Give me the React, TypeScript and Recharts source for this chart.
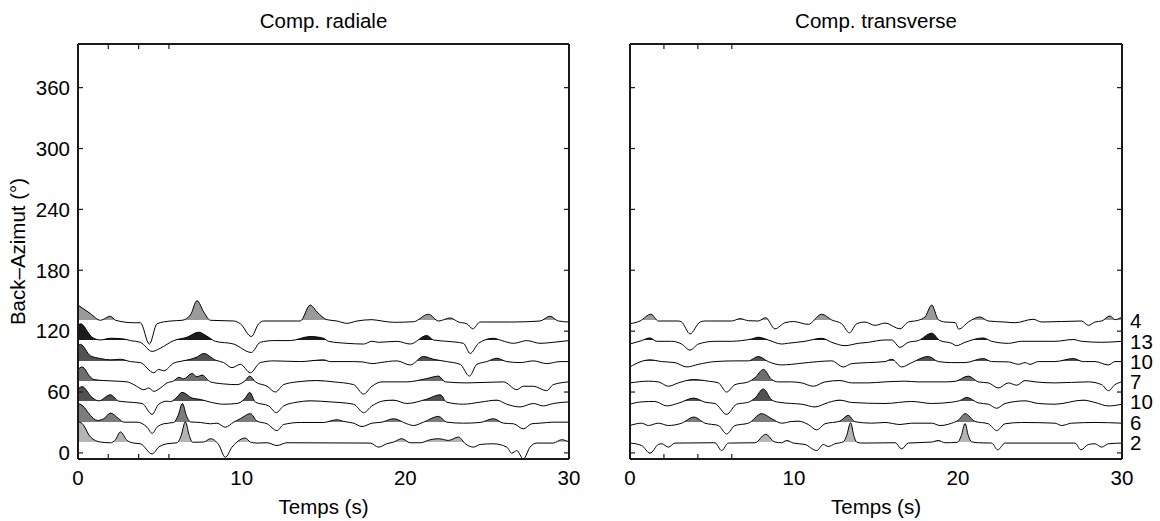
import React from 'react';
import { ComposedChart, Area, XAxis, YAxis, Label } from 'recharts';

type Pt = [number, number];

const FONT = '"Liberation Sans", Arial, Helvetica, sans-serif';
const TIME_TICKS = [0, 10, 20, 30];
const BAZ_TICKS = [0, 60, 120, 180, 240, 300, 360];
const TIME_DOMAIN: [number, number] = [0, 30];
const BAZ_DOMAIN: [number, number] = [-6, 403];
const BASELINES = [130, 110, 90, 70, 50, 30, 10];
const COUNTS = [4, 13, 10, 7, 10, 6, 2];
const FILLS = ['#9a9a9a', '#1c1c1c', '#525252', '#6e6e6e', '#525252', '#7c7c7c', '#b4b4b4'];

// Radial component: [time (s), amplitude above the trace baseline]
const RADIAL_130: Pt[] = [[0,15.7],[0.76,7.3],[1.37,0.7],[1.98,4.7],[2.29,0.7],[3.41,-1.7],[3.81,-1.7],[4.36,-22.7],[4.83,-2.7],[5.65,0],[6.36,0.7],[6.87,6],[7.27,20],[7.68,9],[8.09,0.7],[9.51,0],[9.92,-2.7],[10.59,-15.3],[11.04,-2.7],[11.34,0],[13.58,0],[14.19,15.7],[14.6,9],[15.21,1.3],[15.82,0],[16.43,-2.3],[17.04,0],[17.96,1.3],[18.57,0],[19.28,-1.3],[20.5,-0.7],[21.41,6.7],[22.03,0],[22.74,3],[23.25,-1],[23.76,-2.7],[24.12,-7.7],[24.57,-1],[26.5,-1],[28.23,0],[28.84,4.7],[29.35,0],[30,-1]];
const RADIAL_110: Pt[] = [[0,15.7],[0.15,17.3],[0.86,4],[1.37,1.3],[1.98,3],[2.8,2.3],[3.2,0.7],[3.81,-1],[4.53,-10],[5.04,-6.7],[5.85,0.7],[6.66,4],[7.38,9],[7.88,5],[8.39,0],[9.51,-2.7],[10.59,-11],[11.14,-1],[11.95,0.7],[12.97,0.7],[14.19,4.7],[15.0,3],[15.31,0],[16.43,-2],[17.45,-2.7],[17.96,0],[18.36,-1],[19.48,0],[20.3,-2.7],[21.31,5.7],[21.72,1.3],[22.53,0],[23.55,-2],[23.96,-12],[24.47,-2],[25.38,3],[25.89,0.7],[26.61,-2],[27.42,0.7],[28.23,-2],[29.04,-1],[30,0.7]];
const RADIAL_90: Pt[] = [[0,15.7],[0.15,17],[0.76,5.7],[1.37,3],[1.98,1.7],[2.59,2.3],[3.2,0],[3.81,-1],[4.63,-11],[4.93,-7.7],[5.24,-9],[5.85,-1.5],[6.36,0.5],[6.87,2.3],[7.27,4.5],[7.68,8],[8.39,1.5],[8.9,-1],[9.41,-6],[9.92,-2.7],[10.53,-11],[11.14,-1],[11.95,0.7],[13.58,0],[15.0,1.7],[15.41,0],[16.84,0],[17.35,-0.3],[18.02,-2],[18.46,-1],[19.48,0.7],[20.3,-3.3],[21.11,5],[21.72,2.3],[22.53,0],[23.35,-2.7],[23.92,-14.3],[24.37,-2.7],[24.98,0],[25.59,3.3],[26.2,0],[27.01,-1],[27.82,0.7],[28.64,-2],[29.45,0],[30,0]];
const RADIAL_70: Pt[] = [[0,12.3],[0.25,14.7],[0.76,4.7],[0.97,2.3],[1.58,1.3],[2.39,0.7],[3.0,0],[3.41,-2.7],[4.02,-7.7],[4.32,-6],[4.63,-9.3],[5.04,-6],[5.44,-1],[5.85,1],[6.15,4.5],[6.46,3],[6.97,8.3],[7.27,5],[7.58,6.7],[8.09,0],[8.9,-2],[9.71,-2.7],[10.2,1],[10.49,5.7],[10.84,0],[11.55,-4.3],[12.06,-10],[12.56,-2.7],[13.38,0],[14.6,1.3],[15.62,0],[16.84,-2.7],[17.45,-12],[17.96,-4.3],[18.57,0],[20.09,0],[21.31,3.3],[22.03,5.7],[22.43,0],[23.76,-1],[26.0,0],[26.81,-7.7],[27.21,-4.3],[27.82,-4.3],[28.64,-8.7],[29.04,-2.7],[30,0]];
const RADIAL_50: Pt[] = [[0,13],[0.25,15.3],[0.86,4.7],[1.27,1.3],[1.98,7.3],[2.49,1],[3.41,-0.3],[3.92,-1.3],[4.53,-12],[4.93,-2],[5.44,1],[5.65,0.5],[6.05,5],[6.36,9.7],[6.97,4],[7.48,2.7],[8.09,0],[8.9,-2],[9.71,-1.3],[10.22,4],[10.49,9.7],[10.84,0],[11.65,-3.7],[12.12,-10.3],[12.56,-3.7],[13.38,0],[14.19,1.3],[15.41,0.3],[16.84,-2],[17.45,-10.3],[17.96,-3.7],[18.67,1.3],[19.28,2],[20.09,-1.3],[21.31,3],[22.13,7.3],[22.53,0],[23.55,-2],[24.57,0],[25.59,2],[26.2,-2],[27.01,-4.7],[27.82,-1.3],[28.43,-3.7],[29.04,-1.3],[30,0.3]];
const RADIAL_30: Pt[] = [[0,18.7],[0.25,17],[0.76,7],[1.17,2],[1.58,3.7],[1.98,9.3],[2.49,3.7],[2.8,0.3],[3.61,0.3],[4.22,-4.7],[4.53,-10.7],[4.83,-4.7],[5.24,-1.3],[5.85,0],[6.12,7],[6.38,18.7],[6.62,7],[6.87,0.5],[7.48,0],[8.09,-1.3],[8.49,-0.7],[9.0,-4.7],[9.51,0.3],[9.92,3.7],[10.53,8.7],[10.94,1.3],[11.55,-1.3],[12.16,-8],[12.56,-2],[13.58,0],[15.0,0],[15.82,2.7],[16.23,1],[16.84,-0.7],[17.35,-4],[17.96,-0.7],[18.57,0.3],[19.28,3.7],[20.09,-1.3],[20.5,-3],[21.11,0.3],[22.03,6],[22.53,0.3],[23.55,-0.7],[24.57,0],[25.38,3.7],[26.0,-0.7],[26.61,-1.3],[27.21,-6.3],[27.72,-1.3],[28.23,-0.7],[29.04,0.3],[30,0.3]];
const RADIAL_10: Pt[] = [[0,20.7],[0.25,19],[0.76,5.7],[1.37,0.7],[1.98,0],[2.29,3],[2.59,10.7],[3.0,2.3],[3.41,-0.3],[3.81,-1],[4.53,-11],[4.93,-4.3],[5.44,-1],[6.05,0],[6.3,7],[6.56,20.7],[6.8,7],[7.0,0.5],[7.68,0.7],[8.09,4],[8.6,-2],[9.0,-14.3],[9.41,-4.3],[9.71,0.7],[10.22,4.7],[10.53,0.7],[10.94,-0.3],[11.55,0],[12.16,-2.7],[12.77,0],[17.86,-0.3],[18.36,-4.3],[18.87,-1],[19.28,0.7],[19.79,4],[20.3,0],[20.91,0],[21.52,3],[22.03,4],[22.64,2.3],[23.25,5.7],[23.66,-1],[24.16,-4.3],[24.57,-1.7],[25.38,-1],[26.2,-4.3],[26.5,-10.3],[26.81,-7.7],[27.21,-16],[27.62,-4.3],[28.03,-0.3],[29.04,-0.3],[29.55,3],[30,0.7]];

// Transverse component
const TRANS_130: Pt[] = [[0,-2.7],[0.61,0],[1.28,6.7],[1.73,0],[2.95,0],[3.15,-1],[3.66,-12.7],[4.27,-1],[4.57,0],[6.2,0],[6.71,2.3],[7.22,0.3],[7.82,0],[8.27,3.3],[8.84,-7.7],[9.45,-1.7],[9.96,-0.5],[10.87,-3.3],[11.69,6.7],[12.3,1],[12.91,-2.7],[13.38,-11.7],[13.82,-2.7],[14.33,-1],[14.94,-4.3],[15.55,-2],[16.46,-7.7],[16.97,-1],[17.58,0.7],[17.99,4],[18.4,15.7],[18.8,1.3],[19.21,-1],[19.82,-1.5],[20.05,-8],[20.63,-1],[21.34,4],[21.85,0],[22.87,-1],[23.48,-1.7],[24.59,1.7],[25.1,-1],[27.54,0],[27.95,-4.3],[28.35,-1],[28.76,0],[29.27,5],[29.57,1.3],[30,4]];
const TRANS_110: Pt[] = [[0,-2.7],[0.71,0.7],[1.22,3.3],[1.63,0],[2.54,0],[3.15,-2.7],[3.66,-8.7],[4.17,-2.7],[5.18,0],[6.2,0],[6.81,0.7],[7.42,2.3],[7.82,4],[8.43,1.3],[9.25,-2.7],[9.6,-2],[10.67,0],[11.69,3],[12.3,-1],[13.11,-4.3],[13.92,-2],[14.53,-1],[15.55,1.3],[15.96,1.3],[16.46,-6],[16.97,-1],[17.58,0.7],[18.4,8],[18.9,0.7],[19.62,-2],[19.9,-4.3],[20.43,-1],[21.54,3.3],[22.05,0],[23.07,-2],[23.88,0],[25.91,0],[27.03,1.7],[27.54,0],[28.76,-1],[30,0]];
const TRANS_90: Pt[] = [[0,-5.3],[0.61,-0.3],[1.22,1.7],[1.93,0],[2.74,-1],[3.46,-5.3],[4.17,-2.7],[5.18,0],[6.4,0.7],[7.22,0.7],[7.82,5],[8.43,0],[9.25,-3.3],[9.86,-2.7],[10.26,-2],[11.48,0],[12.3,0.7],[13.01,-5.3],[13.52,-2],[14.53,-1],[15.55,0],[15.96,2.3],[16.57,-5.3],[17.18,-1],[18.19,5],[18.8,0],[19.62,-1],[20.43,-1],[21.54,3],[22.05,0],[23.07,-0.3],[23.68,-2.7],[24.09,-1],[24.39,-2.7],[24.9,0],[25.91,0],[27.03,3],[27.64,0],[28.35,0],[29.17,-3.3],[29.57,0],[30,0]];
const TRANS_70: Pt[] = [[0,-1],[1.12,0.7],[1.73,0],[2.34,-4.3],[2.95,-1],[3.86,2.3],[4.78,0.7],[5.39,-1],[5.89,-10],[6.4,-2.7],[7.22,0],[7.62,4],[8.13,12.3],[8.64,2.3],[9.04,0],[9.86,0],[10.47,-1],[11.18,-4.3],[11.89,0],[12.8,1.3],[13.52,-1],[14.53,-1],[15.55,0],[16.77,0.7],[17.58,0],[19.21,0],[19.82,0.5],[20.63,5.7],[21.24,0],[21.85,-1],[22.46,-6],[23.07,-1],[23.58,-3.3],[24.09,1.3],[24.7,0],[25.91,-1],[27.95,0],[28.76,-2.7],[29.17,-8.7],[29.57,-2.7],[30,0]];
const TRANS_50: Pt[] = [[0,-2],[0.71,0.3],[1.52,0.7],[2.24,-3.7],[2.95,-1],[3.9,4],[4.57,0],[5.18,-1.3],[5.89,-12],[6.5,-2],[7.22,0],[7.62,4],[8.13,13],[8.64,2.3],[9.04,0],[9.86,-1.3],[10.47,-2],[11.28,-4.7],[12.09,-0.3],[12.8,2],[13.52,-0.3],[15.55,-1.3],[17.18,0.7],[18.4,-1.3],[19.62,0],[20.1,1.5],[20.53,4.7],[21.24,-0.7],[21.85,-2],[22.36,-6],[22.87,-1.3],[24.09,1.3],[24.9,-1.3],[25.91,-2],[27.64,2],[28.35,-0.3],[29.17,-3.7],[30,-2]];
const TRANS_30: Pt[] = [[0,-3],[0.71,-0.7],[1.12,-3],[1.73,-0.7],[2.34,-3],[3.15,-0.7],[3.9,5.3],[4.57,-0.7],[5.39,-3],[5.89,-11.3],[6.4,-3],[7.22,-0.7],[8.03,8.7],[8.64,3.7],[9.25,-0.7],[9.86,1],[10.26,1.3],[10.87,-2],[11.38,-7.3],[11.89,-1.3],[12.8,1.3],[13.31,7],[13.72,0.7],[14.74,-0.7],[15.55,0],[16.46,-2],[17.18,-0.7],[18.4,-0.7],[18.9,-3],[19.62,-0.7],[20.0,2],[20.43,8.7],[21.04,1],[21.85,-1.3],[22.36,-8],[22.87,-1.3],[23.88,0],[25.91,-0.7],[26.32,-3],[26.93,-0.7],[28.35,0],[30,-0.7]];
const TRANS_10: Pt[] = [[0,-0.3],[0.71,-2.7],[1.22,-10.3],[1.73,-1.7],[1.93,-1],[2.34,-4.3],[2.74,-0.3],[5.18,0],[5.59,-7.7],[6.0,-0.3],[7.62,0],[8.27,8.3],[8.84,0.7],[9.25,0],[9.55,2.3],[9.96,-0.3],[10.67,-1.7],[11.38,-7.7],[11.79,-1.7],[12.09,-3.7],[12.5,-1],[13.01,1],[13.21,7],[13.45,19.7],[13.65,7],[13.82,0.7],[14.13,-0.3],[16.16,0],[16.57,-6],[16.97,-0.3],[18.4,0.7],[18.8,2.3],[19.21,0],[19.97,0.5],[20.2,7],[20.43,19],[20.63,7],[20.83,1],[21.24,0],[22.05,-0.3],[22.42,-7],[22.87,-0.3],[27.13,-0.3],[27.5,-7],[27.95,-1.7],[28.35,-1],[28.76,-4.3],[29.17,-1],[30,-0.3]];

const RADIAL_TRACES = [RADIAL_130, RADIAL_110, RADIAL_90, RADIAL_70, RADIAL_50, RADIAL_30, RADIAL_10];
const TRANS_TRACES = [TRANS_130, TRANS_110, TRANS_90, TRANS_70, TRANS_50, TRANS_30, TRANS_10];

function buildRows(traces: Pt[][]) {
  const map = new Map<number, Record<string, number>>();
  traces.forEach((tr, i) => {
    tr.forEach(([t, a]) => {
      const row = map.get(t) || { t };
      row['s' + i] = BASELINES[i] + a;
      map.set(t, row);
    });
  });
  return Array.from(map.values()).sort((a, b) => a.t - b.t);
}

// share of the area's height lying above the baseline (gradient hard stop)
function positiveShare(trace: Pt[], base: number) {
  const vals = trace.map((p) => base + p[1]);
  const max = Math.max(base, ...vals);
  const min = Math.min(base, ...vals);
  if (max <= min) return 0;
  return Math.max(0, (max - base - 0.9) / (max - min));
}

const INK = '#1a1a1a';
const FS = 20.5;
const tickText = { fontSize: FS, fill: '#000', fontFamily: FONT };

const markBottom = (p: any) => (
  <line x1={p.x} y1={p.y} x2={p.x} y2={p.y - 5} stroke={INK} strokeWidth={1.2} />
);
const markTop = (p: any) => (
  <line x1={p.x} y1={p.y} x2={p.x} y2={p.y + 5} stroke={INK} strokeWidth={1.2} />
);
const markLeft = (p: any) => (
  <line x1={p.x} y1={p.y} x2={p.x + 5} y2={p.y} stroke={INK} strokeWidth={1.2} />
);
const markRight = (p: any) => (
  <line x1={p.x} y1={p.y} x2={p.x - 5} y2={p.y} stroke={INK} strokeWidth={1.2} />
);

type PanelProps = {
  traces: Pt[][];
  prefix: string;
  title: string;
  left: boolean;
  width: number;
  margin: { top: number; right: number; bottom: number; left: number };
};

function Panel({ traces, prefix, title, left, width, margin }: PanelProps) {
  const rows = buildRows(traces);
  const frame = { stroke: INK, strokeWidth: 2 };
  return (
    <ComposedChart width={width} height={521} data={rows} margin={margin}>
      <defs>
        {traces.map((tr, i) => {
          const off = positiveShare(tr, BASELINES[i]);
          return (
            <linearGradient key={i} id={`${prefix}g${i}`} x1="0" y1="0" x2="0" y2="1">
              <stop offset={0} stopColor={FILLS[i]} stopOpacity={1} />
              <stop offset={off} stopColor={FILLS[i]} stopOpacity={1} />
              <stop offset={off} stopColor={FILLS[i]} stopOpacity={0} />
              <stop offset={1} stopColor={FILLS[i]} stopOpacity={0} />
            </linearGradient>
          );
        })}
      </defs>
      <XAxis
        xAxisId="x"
        dataKey="t"
        type="number"
        domain={TIME_DOMAIN}
        allowDataOverflow
        ticks={TIME_TICKS}
        interval={0}
        height={62}
        tickLine={false}
        axisLine={false}
        tickSize={0}
        tickMargin={11}
        tick={tickText}
      >
        <Label value="Temps (s)" position="insideBottom" offset={7} fontSize={FS} fill="#000" fontFamily={FONT} />
      </XAxis>
      <XAxis
        xAxisId="xb"
        type="number"
        orientation="bottom"
        mirror
        domain={TIME_DOMAIN}
        allowDataOverflow
        ticks={TIME_TICKS}
        interval={0}
        tick={markBottom}
        tickLine={false}
        tickSize={0}
        tickMargin={0}
        axisLine={frame}
      />
      <XAxis
        xAxisId="xt"
        type="number"
        orientation="top"
        mirror
        domain={TIME_DOMAIN}
        allowDataOverflow
        ticks={TIME_TICKS}
        interval={0}
        tick={markTop}
        tickLine={false}
        tickSize={0}
        tickMargin={0}
        axisLine={frame}
      >
        <Label value={title} position="top" offset={16} fontSize={FS} fill="#000" fontFamily={FONT} />
      </XAxis>
      {left ? (
        <YAxis
          yAxisId="y"
          type="number"
          domain={BAZ_DOMAIN}
          allowDataOverflow
          ticks={BAZ_TICKS}
          interval={0}
          width={78}
          tickLine={false}
          axisLine={false}
          tickSize={0}
          tickMargin={8}
          tick={tickText}
        >
          <Label
            content={(p: any) => {
              const vb = p && p.viewBox ? p.viewBox : { x: 0, y: 44, width: 78, height: 415 };
              const cx = vb.x + 18;
              const cy = vb.y + vb.height / 2;
              return (
                <text
                  x={cx}
                  y={cy}
                  transform={`rotate(-90 ${cx} ${cy})`}
                  textAnchor="middle"
                  dy="0.36em"
                  fontSize={FS}
                  fill="#000"
                  fontFamily={FONT}
                >
                  Back–Azimut (°)
                </text>
              );
            }}
          />
        </YAxis>
      ) : (
        <YAxis
          yAxisId="y"
          type="number"
          domain={BAZ_DOMAIN}
          allowDataOverflow
          ticks={BAZ_TICKS}
          interval={0}
          mirror
          tick={markLeft}
          tickLine={false}
          tickSize={0}
          tickMargin={0}
          axisLine={frame}
        />
      )}
      {left ? (
        <YAxis
          yAxisId="yl"
          type="number"
          orientation="left"
          mirror
          domain={BAZ_DOMAIN}
          allowDataOverflow
          ticks={BAZ_TICKS}
          interval={0}
          tick={markLeft}
          tickLine={false}
          tickSize={0}
          tickMargin={0}
          axisLine={frame}
        />
      ) : null}
      <YAxis
        yAxisId="yr"
        type="number"
        orientation="right"
        mirror
        domain={BAZ_DOMAIN}
        allowDataOverflow
        ticks={BAZ_TICKS}
        interval={0}
        tick={markRight}
        tickLine={false}
        tickSize={0}
        tickMargin={0}
        axisLine={frame}
      />
      {!left ? (
        <YAxis
          yAxisId="yc"
          type="number"
          orientation="right"
          domain={BAZ_DOMAIN}
          allowDataOverflow
          ticks={BASELINES}
          interval={0}
          width={38}
          tickLine={false}
          axisLine={false}
          tickSize={0}
          tickMargin={8}
          tick={tickText}
          tickFormatter={(v: number) => String(COUNTS[BASELINES.indexOf(v)])}
        />
      ) : null}
      {traces.map((_, i) => (
        <Area
          key={i}
          xAxisId="x"
          yAxisId="y"
          type="monotone"
          dataKey={'s' + i}
          baseValue={BASELINES[i]}
          connectNulls
          stroke="#000"
          strokeWidth={1}
          fill={`url(#${prefix}g${i})`}
          fillOpacity={1}
          dot={false}
          activeDot={false}
          isAnimationActive={false}
        />
      ))}
    </ComposedChart>
  );
}

export default function App() {
  return (
    <div style={{ position: 'absolute', left: 0, top: 0, width: 1160, height: 521, background: '#fff', fontFamily: FONT }}>
      <div style={{ position: 'absolute', left: 0, top: 0 }}>
        <Panel
          traces={RADIAL_TRACES}
          prefix="rad"
          title="Comp. radiale"
          left
          width={600}
          margin={{ top: 44, right: 31, bottom: 0, left: 0 }}
        />
      </div>
      <div style={{ position: 'absolute', left: 600, top: 0 }}>
        <Panel
          traces={TRANS_TRACES}
          prefix="tra"
          title="Comp. transverse"
          left={false}
          width={560}
          margin={{ top: 44, right: 0, bottom: 0, left: 30 }}
        />
      </div>
    </div>
  );
}
